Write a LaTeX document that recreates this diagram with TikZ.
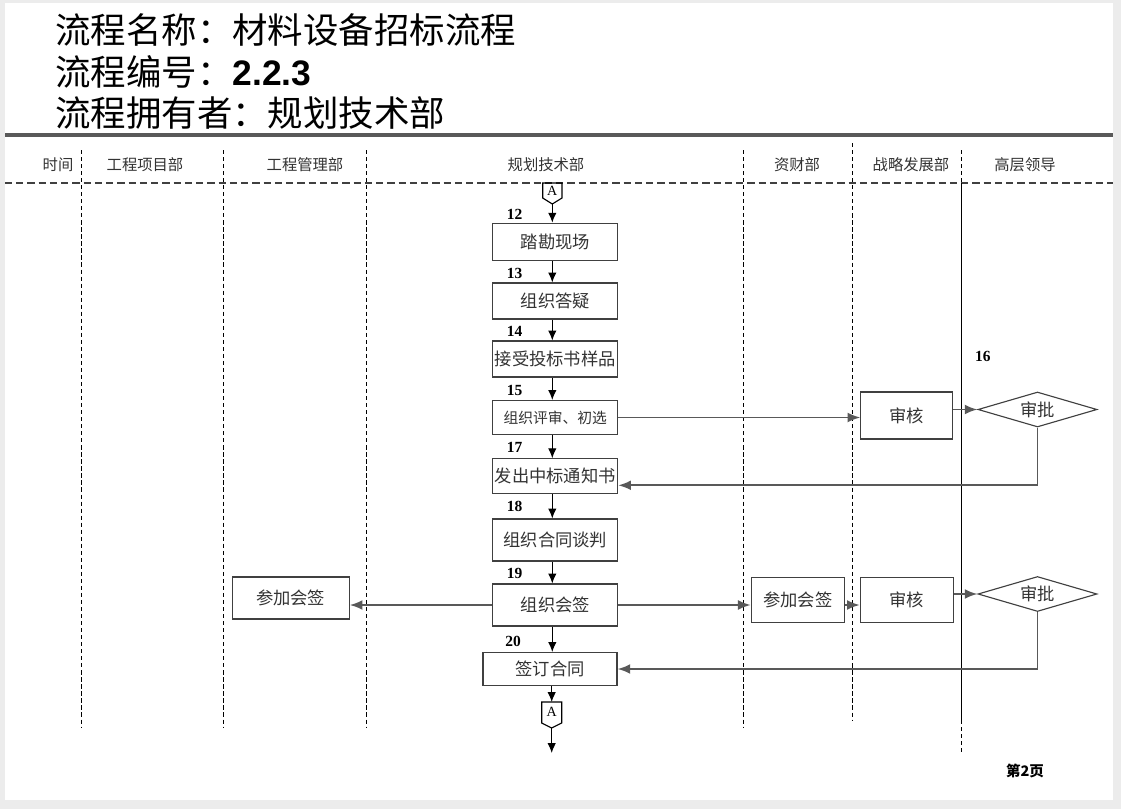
\documentclass[tikz,border=0pt]{standalone}
\usepackage{fontspec}
\setmainfont{Noto Sans CJK SC}
\newfontfamily\serifnum{Liberation Serif}
\newfontfamily\sansnum{Liberation Sans}
\usepackage{tikz}
\usetikzlibrary{calc}
\usetikzlibrary{shapes}
\usetikzlibrary{arrows.meta}
\definecolor{pagegray}{RGB}{236,236,236}
\newcommand{\titlefont}{\fontsize{25.2}{30}\selectfont}
\newcommand{\headfont}{\fontsize{10.9}{13}\selectfont}
\newcommand{\boxfont}{\fontsize{12.3}{14}\selectfont}
\newcommand{\stepfont}{\fontsize{11}{13}\selectfont\serifnum\bfseries}

\begin{document}
\begin{tikzpicture}[x=0.025cm, y=-0.025cm,
  stepbox/.style={draw=black!75, line width=0.8pt, minimum width=3.12cm, minimum height=0.9cm, inner sep=0pt, font=\boxfont, text=black!80},
  gate/.style={diamond, shape aspect=3.4, draw=black!75, line width=0.8pt, minimum width=2.975cm, minimum height=0.875cm, inner sep=0pt, font=\boxfont, text=black!80},
  lane/.style={dash pattern=on 3pt off 2pt, line width=0.5pt},
  head/.style={font=\headfont, text=black!80},
  stepno/.style={font=\stepfont},
  down/.style={-{Latex[length=7pt,width=6pt]}, line width=0.8pt},
  across/.style={-{Latex[length=9pt,width=7pt]}, line width=1.3pt, draw=black!65},
  offpage/.style={font=\serifnum\fontsize{10}{12}\selectfont, inner sep=0pt}
]
 \useasboundingbox (0,0) rectangle (1121,809);
 \fill[pagegray] (0,0) rectangle (1121,809);
 \fill[white] (5,3) rectangle (1113,800);

 % title
 \node[anchor=west, font=\titlefont, inner sep=0pt] (tName) at (55,30) {流程名称：材料设备招标流程};
 \node[anchor=west, font=\titlefont, inner sep=0pt] (tCode) at (55,72) {流程编号：{\sansnum\bfseries 2.2.3}};
 \node[anchor=west, font=\titlefont, inner sep=0pt] (tOwner) at (55,113) {流程拥有者：规划技术部};
 \draw[line width=2.5pt, black!65] (5,135) -- (1113,135);

 % lanes
 \node[head] (hTime) at (58,165) {时间};
 \node[head] (hSite) at (145,165) {工程项目部};
 \node[head] (hEng) at (305,165) {工程管理部};
 \node[head] (hPlan) at (546,165) {规划技术部};
 \node[head] (hFin) at (797,165) {资财部};
 \node[head] (hStra) at (911,165) {战略发展部};
 \node[head] (hBoss) at (1025,165) {高层领导};
 \draw[dash pattern=on 5pt off 3pt, line width=1pt, black!75] (5,183) -- (1113,183);
 \draw[lane] (81,150) -- (81,727);
 \draw[lane] (223,150) -- (223,727);
 \draw[lane] (366,150) -- (366,727);
 \draw[lane] (743,150) -- (743,727);
 \draw[lane] (852,143) -- (852,720);
 \draw[lane] (961,150) -- (961,183);
 \draw[line width=0.6pt] (961,183) -- (961,720);
 \draw[lane] (961,720) -- (961,753);

 % main column
 \node[offpage] (aTop) at (552.3,191) {A};
 \draw[line width=0.8pt] (542.7,183) -- (562,183) -- (562,198) -- (552.3,204) -- (542.7,198) -- cycle;
 \coordinate (aTopTip) at (552.3,204);

 \node[stepbox, minimum height=0.94cm] (n12) at (555.3,242) {踏勘现场};
 \node[stepbox] (n13) at (555.3,301) {组织答疑};
 \node[stepbox] (n14) at (555.3,359) {接受投标书样品};
 \node[stepbox, minimum height=0.85cm, font=\fontsize{10.5}{12}\selectfont] (n15) at (555.3,417.5) {组织评审、初选};
 \node[stepbox, minimum height=0.875cm] (n17) at (555.3,476.3) {发出中标通知书};
 \node[stepbox, minimum height=1.05cm] (n18) at (555.3,540) {组织合同谈判};
 \node[stepbox, minimum height=1.05cm] (n19) at (555.3,605) {组织会签};
 \node[stepbox, minimum width=3.35cm, minimum height=0.825cm] (n20) at (550,669) {签订合同};

 \node[stepno] (s12) at (514.7,214) {12};
 \node[stepno] (s13) at (514.7,273) {13};
 \node[stepno] (s14) at (514.7,331) {14};
 \node[stepno] (s15) at (514.7,390) {15};
 \node[stepno] (s16) at (982.8,356) {16};
 \node[stepno] (s17) at (514.7,447.5) {17};
 \node[stepno] (s18) at (514.7,506.5) {18};
 \node[stepno] (s19) at (514.7,573) {19};
 \node[stepno] (s20) at (513,641) {20};

 \node[offpage] (aBot) at (551.7,712) {A};
 \draw[line width=0.8pt] (541.7,702) -- (561.7,702) -- (561.7,723) -- (551.7,728) -- (541.7,723) -- cycle;
 \coordinate (aBotTop) at (551.7,702);
 \coordinate (aBotTip) at (551.7,728);
 \coordinate (flowEnd) at (551.7,753);

 % side boxes
 \node[stepbox, minimum width=2.3cm, minimum height=1.175cm] (audit1) at (906.9,415.5) {审核};
 \node[gate] (sp1) at (1037.5,409.5) {审批};
 \node[stepbox, minimum width=2.925cm, minimum height=1.05cm] (sign1) at (290.7,598) {参加会签};
 \node[stepbox, minimum width=2.325cm, minimum height=1.125cm] (sign2) at (797.7,600) {参加会签};
 \node[stepbox, minimum width=2.325cm, minimum height=1.125cm] (audit2) at (906.8,600) {审核};
 \node[gate] (sp2) at (1037.5,594) {审批};

 % arrows
 \draw[down] (aTopTip) -- (n12.north -| aTopTip);
 \draw[down] (n12.south -| aTopTip) -- (n13.north -| aTopTip);
 \draw[down] (n13.south -| aTopTip) -- (n14.north -| aTopTip);
 \draw[down] (n14.south -| aTopTip) -- (n15.north -| aTopTip);
 \draw[down] (n15.south -| aTopTip) -- (n17.north -| aTopTip);
 \draw[down] (n17.south -| aTopTip) -- (n18.north -| aTopTip);
 \draw[down] (n18.south -| aTopTip) -- (n19.north -| aTopTip);
 \draw[down] (n19.south -| aTopTip) -- (n20.north -| aTopTip);
 \draw[down] (n20.south -| aBotTop) -- (aBotTop);
 \draw[down] (aBotTip) -- (flowEnd);

 \draw[across] (n15.east) -- (n15.east -| audit1.west);
 \draw[across] (audit1.east |- sp1) -- (sp1.west);
 \draw[across] (sp1.south) |- ($(n17.east)+(0,9)$);
 \draw[across] (n19.west) -- (n19.west -| sign1.east);
 \draw[across] (n19.east) -- (n19.east -| sign2.west);
 \draw[across] (sign2.east |- n19.east) -- (n19.east -| audit2.west);
 \draw[across] (audit2.east |- sp2) -- (sp2.west);
 \draw[across] (sp2.south) |- (n20.east);

 \node[font=\fontsize{10.3}{12}\selectfont\bfseries] (page) at (1025,771) {第2页};
\end{tikzpicture}
\end{document}
